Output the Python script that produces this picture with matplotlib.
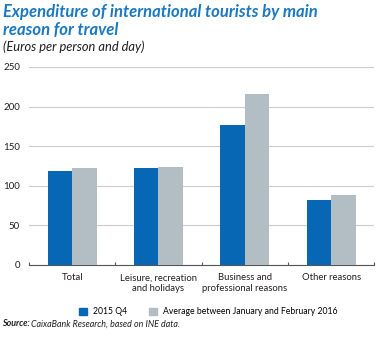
import matplotlib
matplotlib.use('Agg')
import matplotlib.pyplot as plt
import matplotlib.patches as mpatches
import numpy as np

plt.rcParams['font.family'] = ['Lato', 'DejaVu Sans']

categories = ['Total', 'Leisure, recreation\nand holidays',
              'Business and\nprofessional reasons', 'Other reasons']
q4_2015 = [119, 123, 177, 82]
avg_janfeb_2016 = [123, 124, 216, 88]
series_names = ['2015 Q4', 'Average between January and February 2016']

BLUE = '#0767b4'
GREY = '#b2bec3'
TITLE_BLUE = '#1a78c2'
TEXT = '#231f20'

fig = plt.figure(figsize=(3.79, 3.38), dpi=100)
ax = fig.add_axes([0.0765, 0.216, 0.911, 0.586])

x = np.arange(len(categories))
w = 0.283
ax.bar(x - w / 2, q4_2015, w, color=BLUE, zorder=3)
ax.bar(x + w / 2, avg_janfeb_2016, w, color=GREY, zorder=3)

ax.set_xlim(-0.5, len(categories) - 0.5)
ax.set_ylim(0, 250)
ax.set_yticks(np.arange(0, 251, 50))
ax.yaxis.grid(True, color='#cccccc', linewidth=0.8, zorder=0)
ax.tick_params(axis='y', length=0, labelsize=7, colors=TEXT, pad=6.5)

# category labels centred, small boundary ticks on the baseline
ax.set_xticks(x)
ax.set_xticklabels(categories, fontsize=6.8, color=TEXT, linespacing=1.3)
ax.tick_params(axis='x', which='major', length=0, pad=6)
ax.set_xticks(np.arange(-0.5, len(categories), 1.0), minor=True)
ax.tick_params(axis='x', which='minor', length=2.5, width=0.8, colors='#555555',
               direction='in')

for s in ['top', 'right', 'left']:
    ax.spines[s].set_visible(False)
ax.spines['bottom'].set_color('#555555')
ax.spines['bottom'].set_linewidth(0.8)

# titles
fig.text(0.008, 0.950, 'Expenditure of international tourists by main',
         ha='left', va='baseline', fontsize=12.0, fontweight='bold', style='italic',
         color=TITLE_BLUE)
fig.text(0.008, 0.896, 'reason for travel',
         ha='left', va='baseline', fontsize=12.0, fontweight='bold', style='italic',
         color=TITLE_BLUE)
fig.text(0.008, 0.862, '(Euros per person and day)', ha='left', va='center',
         fontsize=9.3, style='italic', color=TEXT)

# legend
handles = [mpatches.Patch(color=BLUE), mpatches.Patch(color=GREY)]
fig.legend(handles, series_names, loc='center', bbox_to_anchor=(0.55, 0.077),
           ncol=2, frameon=False, fontsize=6.2, handlelength=0.9, handleheight=0.9,
           columnspacing=2.6, handletextpad=0.7)

# source line
src = fig.text(0.004, 0.042, 'Source:', ha='left', va='center', fontsize=6.4,
               fontweight='bold', style='italic', color=TEXT)
ax.annotate('CaixaBank Research, based on INE data.', xy=(1, 0.5), xycoords=src,
            xytext=(1.5, 0), textcoords='offset points', ha='left', va='center',
            fontsize=6.4, style='italic', color=TEXT, annotation_clip=False)

fig.savefig('out.png', dpi=100, facecolor='white')
